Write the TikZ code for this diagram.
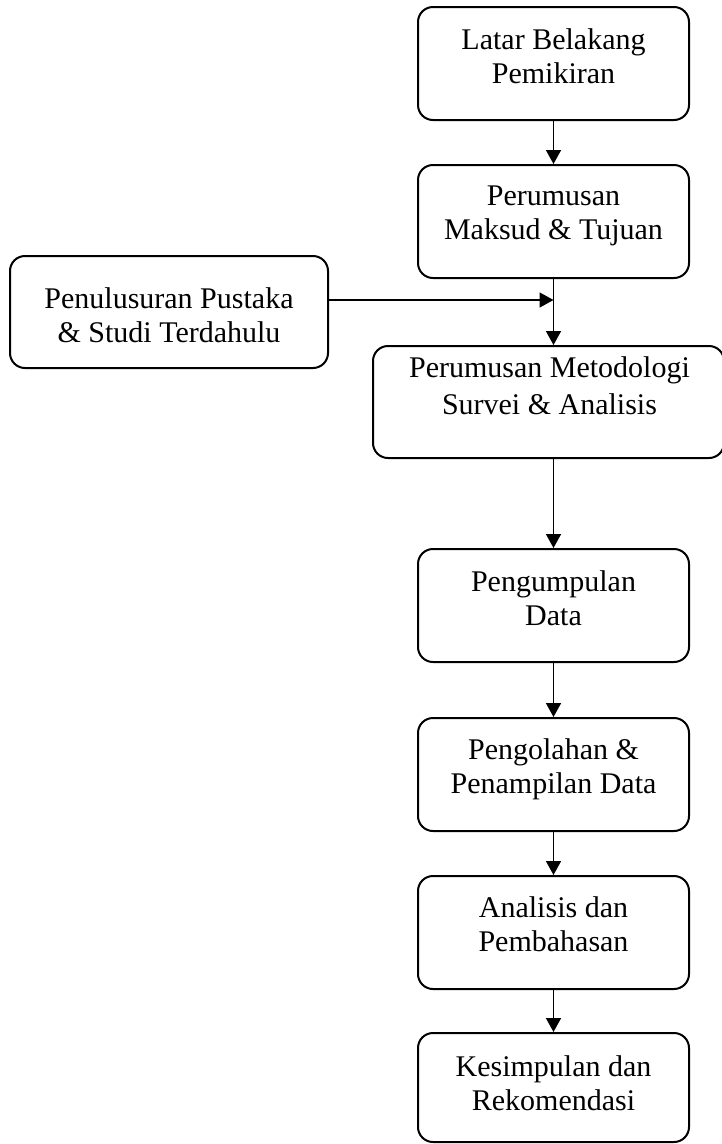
\documentclass[tikz,border=0pt]{standalone}
\usepackage{fontspec}
\setmainfont{Liberation Serif}
\usetikzlibrary{arrows.meta}

\begin{document}
\begin{tikzpicture}[x=1pt, y=-1pt,
  flowbox/.style={draw=black, line width=2pt, rounded corners=15pt,
    minimum width=271pt, minimum height=113pt, inner sep=0pt},
  boxtext/.style={anchor=north, inner sep=0pt, align=center,
    font=\fontsize{30}{34}\selectfont},
  flow/.style={line width=1.6pt, -{Triangle[length=14pt, width=15pt]}}
]
\useasboundingbox (0,0) rectangle (722,1144);

% boxes of the main column
\node[flowbox] (b1) at (553.5, 63.5) {};
\node[flowbox] (b2) at (553.5, 221.5) {};
\node[flowbox, minimum width=318pt, minimum height=112pt] (b3) at (169, 312) {};
\node[flowbox, minimum width=351pt, minimum height=112pt] (b4) at (548.5, 402) {};
\node[flowbox] (b5) at (553.5, 605.5) {};
\node[flowbox] (b6) at (553.5, 774.5) {};
\node[flowbox] (b7) at (553.5, 932.5) {};
\node[flowbox, minimum height=109pt] (b8) at (553.5, 1087.5) {};

% box texts
\node[boxtext] (t1) at ([yshift=-22.5pt]b1.north) {Latar Belakang\\Pemikiran};
\node[boxtext] (t2) at ([yshift=-21.5pt]b2.north) {Perumusan\\Maksud \& Tujuan};
\node[boxtext] (t3) at ([yshift=-32.5pt]b3.north) {Penulusuran Pustaka\\\& Studi Terdahulu};
\node[boxtext, font=\fontsize{30}{37}\selectfont] (t4) at ([xshift=1pt, yshift=-11.5pt]b4.north) {Perumusan Metodologi\\Survei \& Analisis};
\node[boxtext] (t5) at ([yshift=-22.5pt]b5.north) {Pengumpulan\\Data};
\node[boxtext] (t6) at ([yshift=-21.5pt]b6.north) {Pengolahan \&\\Penampilan Data};
\node[boxtext] (t7) at ([yshift=-21.5pt]b7.north) {Analisis dan\\Pembahasan};
\node[boxtext] (t8) at ([yshift=-23.5pt]b8.north) {Kesimpulan dan\\Rekomendasi};

% junction where the literature study joins the main line
\coordinate (j) at (553.5, 300);

% connectors
\draw[flow] (b1.south) -- (b2.north);
\draw[flow] (b2.south) -- (b2.south |- b4.north);
\draw[flow] (b3.east |- j) -- (j);
\draw[flow] (b5.north |- b4.south) -- (b5.north);
\draw[flow] (b5.south) -- (b6.north);
\draw[flow] (b6.south) -- (b7.north);
\draw[flow] (b7.south) -- (b8.north);
\end{tikzpicture}
\end{document}
